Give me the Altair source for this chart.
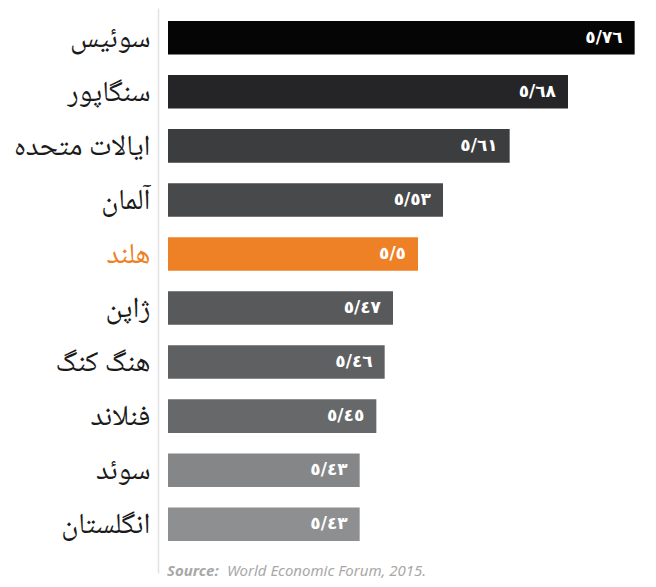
import altair as alt
import pandas as pd

countries = ["سوئیس", "سنگاپور", "ایالات متحده", "آلمان", "هلند",
             "ژاپن", "هنگ کنگ", "فنلاند", "سوئد", "انگلستان"]
scores = [5.76, 5.68, 5.61, 5.53, 5.50, 5.47, 5.46, 5.45, 5.43, 5.43]
score_labels = ["٥/٧٦", "٥/٦٨", "٥/٦١", "٥/٥٣", "٥/٥", "٥/٤٧", "٥/٤٦", "٥/٤٥", "٥/٤٣", "٥/٤٣"]
bar_colors = ["#050505", "#252528", "#3c3d3f", "#48494b", "#ee8026",
              "#58595b", "#5f6062", "#67686a", "#858688", "#8e8f91"]
source_parts = ["Source:", "World Economic Forum, 2015."]
axis_min = 5.2

df = pd.DataFrame({"country": countries, "score": scores,
                   "label": score_labels, "color": bar_colors})

W, H = 475, 565

y_enc = alt.Y("country:N", sort=countries,
              scale=alt.Scale(paddingInner=0.38, paddingOuter=0.4165, align=0.289),
              axis=alt.Axis(title=None, ticks=False, grid=False, domain=True,
                            domainColor="#e2e2e2", domainWidth=1.5, offset=10,
                            labelPadding=8, labelFontSize=29,
                            labelFont="Noto Naskh Arabic, serif",
                            labelColor=alt.expr("datum.value == 'هلند' ? '#ee8026' : '#1a1a1a'"),
                            labelLimit=300))
x_enc = alt.X("score:Q", scale=alt.Scale(domain=[axis_min, 5.77], zero=False, nice=False),
              axis=None)

bars = alt.Chart(df).mark_bar().encode(
    x=x_enc, x2=alt.datum(axis_min), y=y_enc, color=alt.Color("color:N", scale=None))

vals = alt.Chart(df).mark_text(align="right", baseline="middle", dx=-12,
                               color="white", fontSize=17, fontWeight="bold",
                               font="DejaVu Sans").encode(
    x=x_enc, y=y_enc, text="label:N")

src1 = alt.Chart(pd.DataFrame({"t": [source_parts[0]]})).mark_text(
    align="left", baseline="alphabetic", fontSize=15, fontStyle="italic",
    fontWeight="bold", color="#a8a8a8", font="Noto Sans").encode(
    x=alt.value(-1), y=alt.value(568), text="t:N")
src2 = alt.Chart(pd.DataFrame({"t": [source_parts[1]]})).mark_text(
    align="left", baseline="alphabetic", fontSize=15, fontStyle="italic",
    color="#a8a8a8", font="Noto Sans").encode(
    x=alt.value(59), y=alt.value(568), text="t:N")

chart = alt.layer(bars, vals, src1, src2).properties(
    width=W, height=H,
    autosize=alt.AutoSizeParams(type="none"),
    padding={"left": 160, "top": 0, "right": 5, "bottom": 6},
).configure_view(strokeWidth=0)

chart.save("out.html", embed_options={"renderer": "svg", "actions": False})
